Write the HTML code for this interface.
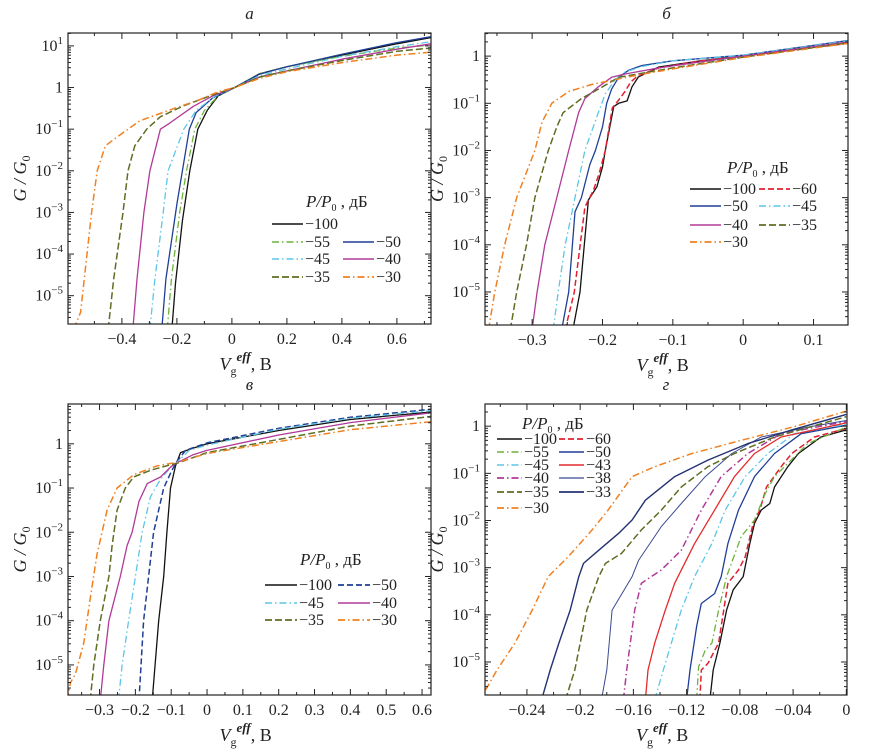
<!DOCTYPE html>
<html><head><meta charset="utf-8">
<style>
html,body{margin:0;padding:0;background:#fff;}
svg{display:block;}
svg text{font-family:"Liberation Serif","DejaVu Serif",serif;}
</style></head>
<body>
<svg id="fig" width="884" height="754" viewBox="0 0 884 754" xmlns="http://www.w3.org/2000/svg" font-family="Liberation Serif, serif">
<defs>
<clipPath id="ca"><rect x="68" y="33" width="363" height="291"/></clipPath>
<clipPath id="cb"><rect x="485" y="33" width="363" height="292"/></clipPath>
<clipPath id="cc"><rect x="68" y="404" width="363" height="291"/></clipPath>
<clipPath id="cd"><rect x="485" y="404" width="362" height="291"/></clipPath>
</defs>
</svg>
<script>
// ---------- data: [V (volts), log10(G/G0)] ----------
const labelsA = ["−100","−55","−50","−45","−40","−35","−30"];
const a_m100 = [[-0.218,-5.8],[-0.205,-4.7],[-0.18,-3.2],[-0.153,-2],[-0.124,-1],[-0.09,-0.55],[-0.05,-0.2],[0.01,0],[0.1,0.33],[0.2,0.5],[0.4,0.78],[0.6,1.05],[0.724,1.2]];
const a_m55 = [[-0.235,-5.8],[-0.22,-4.6],[-0.19,-3],[-0.165,-2],[-0.135,-1],[-0.1,-0.55],[-0.05,-0.2],[0.01,0],[0.1,0.33],[0.2,0.5],[0.4,0.75],[0.6,0.95],[0.724,1.02]];
const a_m50 = [[-0.255,-5.8],[-0.24,-4.6],[-0.2,-2.8],[-0.18,-2],[-0.155,-1],[-0.13,-0.6],[-0.07,-0.25],[0.01,0],[0.1,0.32],[0.2,0.5],[0.4,0.8],[0.6,1.08],[0.724,1.22]];
const a_m45 = [[-0.298,-5.8],[-0.28,-4.6],[-0.25,-3],[-0.232,-2],[-0.175,-1],[-0.13,-0.55],[-0.06,-0.2],[0.01,0],[0.1,0.28],[0.2,0.45],[0.4,0.75],[0.6,0.98],[0.724,1.1]];
const a_m40 = [[-0.36,-5.8],[-0.345,-4.6],[-0.32,-3],[-0.298,-2],[-0.26,-1],[-0.225,-0.85],[-0.14,-0.45],[-0.07,-0.2],[0.01,0],[0.1,0.25],[0.2,0.4],[0.4,0.68],[0.6,0.92],[0.724,1.05]];
const a_m35 = [[-0.45,-5.8],[-0.43,-4.6],[-0.396,-3],[-0.378,-2],[-0.353,-1.4],[-0.31,-1],[-0.26,-0.7],[-0.18,-0.45],[-0.08,-0.2],[0.01,0],[0.1,0.25],[0.2,0.4],[0.4,0.65],[0.6,0.87],[0.724,0.95]];
const a_m30 = [[-0.575,-5.8],[-0.55,-5.4],[-0.527,-4],[-0.51,-3],[-0.49,-2],[-0.46,-1.4],[-0.42,-1.2],[-0.335,-0.8],[-0.21,-0.5],[-0.12,-0.3],[-0.05,-0.1],[0.01,0],[0.1,0.22],[0.2,0.38],[0.4,0.6],[0.6,0.78],[0.724,0.85]];

const labelsB = ["−100","−60","−50","−45","−40","−35","−30"];
const b_m100 = [[-0.242,-5.8],[-0.232,-5],[-0.22,-3.05],[-0.208,-2.77],[-0.2,-2.35],[-0.196,-2],[-0.184,-1.07],[-0.177,-1],[-0.165,-0.95],[-0.158,-0.65],[-0.149,-0.44],[-0.12,-0.23],[-0.06,-0.1],[0,0],[0.149,0.28]];
const b_m60 = [[-0.253,-5.8],[-0.24,-5],[-0.225,-3.2],[-0.213,-2.85],[-0.205,-2.5],[-0.196,-2],[-0.186,-1.1],[-0.178,-0.95],[-0.168,-0.75],[-0.16,-0.55],[-0.15,-0.42],[-0.12,-0.25],[-0.06,-0.1],[0,0],[0.149,0.27]];
const b_m50 = [[-0.258,-5.8],[-0.248,-5],[-0.239,-3.3],[-0.23,-3],[-0.218,-2.3],[-0.21,-2],[-0.2,-1.5],[-0.194,-1],[-0.187,-0.7],[-0.177,-0.45],[-0.163,-0.3],[-0.144,-0.2],[-0.1,-0.1],[0,0.02],[0.149,0.33]];
const b_m45 = [[-0.27,-5.8],[-0.263,-5],[-0.253,-4],[-0.239,-3],[-0.225,-2],[-0.206,-1.2],[-0.196,-0.8],[-0.182,-0.5],[-0.17,-0.35],[-0.144,-0.22],[-0.1,-0.1],[0,0.02],[0.149,0.32]];
const b_m40 = [[-0.3,-5.8],[-0.293,-5],[-0.282,-4],[-0.265,-3],[-0.248,-2],[-0.234,-1.2],[-0.225,-0.9],[-0.206,-0.65],[-0.187,-0.45],[-0.168,-0.38],[-0.12,-0.25],[-0.06,-0.12],[0,0],[0.149,0.3]];
const b_m35 = [[-0.331,-5.8],[-0.322,-5],[-0.308,-4],[-0.296,-3],[-0.277,-2],[-0.265,-1.5],[-0.256,-1.2],[-0.23,-0.9],[-0.2,-0.65],[-0.177,-0.45],[-0.15,-0.38],[-0.1,-0.25],[0,-0.02],[0.149,0.28]];
const b_m30 = [[-0.362,-5.8],[-0.353,-5],[-0.339,-4],[-0.322,-3],[-0.296,-2],[-0.286,-1.4],[-0.272,-1],[-0.248,-0.75],[-0.215,-0.6],[-0.182,-0.5],[-0.15,-0.4],[-0.1,-0.27],[0,-0.03],[0.149,0.27]];

const labelsC = ["−100","−50","−45","−40","−35","−30"];
const c_m100 = [[-0.153,-5.8],[-0.135,-4],[-0.121,-3],[-0.112,-2],[-0.102,-1],[-0.088,-0.5],[-0.074,-0.2],[-0.047,-0.12],[0,0],[0.2,0.3],[0.4,0.55],[0.625,0.72]];
const c_m50 = [[-0.19,-5.8],[-0.177,-4],[-0.163,-3],[-0.149,-2],[-0.121,-1],[-0.098,-0.6],[-0.084,-0.4],[-0.06,-0.15],[0,0.02],[0.2,0.35],[0.4,0.6],[0.625,0.78]];
const c_m45 = [[-0.247,-5.8],[-0.237,-5],[-0.219,-4],[-0.2,-3],[-0.181,-2],[-0.158,-1.2],[-0.13,-0.8],[-0.098,-0.5],[-0.084,-0.42],[-0.05,-0.15],[0,-0.03],[0.2,0.33],[0.4,0.58],[0.625,0.75]];
const c_m40 = [[-0.298,-5.8],[-0.288,-5],[-0.274,-4],[-0.242,-3],[-0.223,-2.3],[-0.209,-2],[-0.19,-1.3],[-0.167,-0.9],[-0.13,-0.75],[-0.098,-0.5],[-0.084,-0.43],[-0.04,-0.25],[0,-0.15],[0.2,0.2],[0.4,0.48],[0.625,0.7]];
const c_m35 = [[-0.326,-5.8],[-0.316,-5],[-0.298,-4],[-0.274,-3],[-0.265,-2.3],[-0.251,-1.5],[-0.228,-1],[-0.205,-0.75],[-0.158,-0.6],[-0.1,-0.47],[-0.084,-0.44],[0,-0.2],[0.2,0.1],[0.4,0.4],[0.625,0.62]];
const c_m30 = [[-0.39,-5.8],[-0.381,-5.4],[-0.367,-5.2],[-0.344,-4.5],[-0.326,-3.5],[-0.307,-2.5],[-0.279,-1.5],[-0.251,-1],[-0.205,-0.7],[-0.14,-0.5],[-0.084,-0.42],[0,-0.22],[0.2,0.05],[0.4,0.32],[0.625,0.5]];

const labelsD = ["−100","−60","−55","−50","−45","−43","−40","−38","−35","−33","−30"];
const d_m100 = [[-0.1025,-5.8],[-0.1,-5.17],[-0.095,-4.6],[-0.09,-3.9],[-0.085,-3.47],[-0.0775,-3.19],[-0.0725,-2.49],[-0.069,-2.06],[-0.064,-1.78],[-0.0575,-1.64],[-0.054,-1.29],[-0.044,-0.86],[-0.036,-0.58],[-0.019,-0.23],[0,-0.08]];
const d_m60 = [[-0.11,-5.8],[-0.109,-5.17],[-0.104,-5.03],[-0.096,-4.6],[-0.089,-3.33],[-0.081,-3.05],[-0.076,-2.77],[-0.07,-2.06],[-0.065,-1.78],[-0.06,-1.29],[-0.049,-0.86],[-0.041,-0.58],[-0.024,-0.23],[0,-0.05]];
const d_m55 = [[-0.1125,-5.8],[-0.111,-5.1],[-0.106,-4.75],[-0.101,-4.6],[-0.096,-3.9],[-0.09,-3.19],[-0.079,-2.34],[-0.069,-1.99],[-0.061,-1.43],[-0.054,-1.07],[-0.044,-0.79],[-0.029,-0.37],[0,-0.02]];
const d_m50 = [[-0.12,-5.8],[-0.1175,-5.17],[-0.1125,-4.25],[-0.109,-3.76],[-0.099,-3.55],[-0.094,-3.19],[-0.089,-2.49],[-0.081,-1.78],[-0.069,-1.07],[-0.054,-0.58],[-0.034,-0.16],[0,0.02]];
const d_m45 = [[-0.144,-5.8],[-0.1375,-5.17],[-0.124,-3.9],[-0.114,-3.19],[-0.101,-2.49],[-0.091,-1.78],[-0.076,-1.07],[-0.059,-0.58],[-0.039,-0.16],[0,0.04]];
const d_m43 = [[-0.151,-5.8],[-0.149,-5.17],[-0.144,-4.6],[-0.136,-3.9],[-0.129,-3.33],[-0.114,-2.49],[-0.099,-1.78],[-0.084,-1.07],[-0.069,-0.58],[-0.049,-0.23],[0,0.07]];
const d_m40 = [[-0.1675,-5.8],[-0.165,-5.17],[-0.159,-3.9],[-0.154,-3.33],[-0.139,-3.05],[-0.124,-2.63],[-0.109,-1.78],[-0.094,-1.07],[-0.074,-0.58],[-0.049,-0.16],[0,0.1]];
const d_m38 = [[-0.184,-5.8],[-0.18,-5.17],[-0.176,-3.9],[-0.161,-3.19],[-0.156,-2.84],[-0.139,-2.13],[-0.124,-1.64],[-0.106,-1.07],[-0.086,-0.58],[-0.064,-0.23],[-0.029,-0.02],[0,0.12]];
const d_m35 = [[-0.211,-5.8],[-0.204,-5.17],[-0.195,-3.9],[-0.186,-3.19],[-0.181,-2.91],[-0.169,-2.7],[-0.154,-2.2],[-0.139,-1.78],[-0.124,-1.29],[-0.104,-0.86],[-0.084,-0.58],[-0.054,-0.23],[0,0.2]];
const d_m33 = [[-0.229,-5.8],[-0.2225,-5.17],[-0.216,-4.6],[-0.2075,-3.9],[-0.201,-3.19],[-0.1975,-2.91],[-0.186,-2.63],[-0.171,-2.27],[-0.161,-1.99],[-0.151,-1.57],[-0.129,-1.07],[-0.104,-0.72],[-0.074,-0.37],[-0.041,-0.08],[0,0.25]];
const d_m30 = [[-0.271,-5.59],[-0.2625,-5.17],[-0.249,-4.6],[-0.236,-3.9],[-0.224,-3.19],[-0.209,-2.77],[-0.191,-2.2],[-0.179,-1.78],[-0.161,-1.07],[-0.144,-0.86],[-0.116,-0.58],[-0.079,-0.3],[-0.039,-0.01],[0,0.32]];

const xTicksA = [-0.4,-0.2,0,0.2,0.4,0.6];
const xTicksB = [-0.3,-0.2,-0.1,0,0.1];
const xTicksC = [-0.3,-0.2,-0.1,0,0.1,0.2,0.3,0.4,0.5,0.6];
const xTicksD = [-0.24,-0.2,-0.16,-0.12,-0.08,-0.04,0];

// ---------- rendering ----------
const NS="http://www.w3.org/2000/svg";
const FF="Liberation Serif, DejaVu Serif, serif";
const svg=document.getElementById('fig');
function el(tag,attrs,parent){const e=document.createElementNS(NS,tag);for(const k in attrs)e.setAttribute(k,attrs[k]);if(tag==='text')e.setAttribute('font-family',FF);(parent||svg).appendChild(e);return e;}
const ST={
 black:{c:"#111",d:"",w:1.3}, green:{c:"#6cb33a",d:"7,3,1.5,3",w:1.3}, blue:{c:"#1f3f95",d:"",w:1.3},
 bluedash:{c:"#1f3f95",d:"6,3",w:1.5}, cyan:{c:"#5cc6e6",d:"7,3,1.5,3",w:1.3}, magenta:{c:"#b03a98",d:"",w:1.3},
 magdd:{c:"#b03a98",d:"7,3,1.5,3",w:1.5}, olive:{c:"#5e6e22",d:"7,3",w:1.5}, orange:{c:"#f08020",d:"7,3,1.5,3",w:1.5},
 reddash:{c:"#e02030",d:"6,3",w:1.5}, red:{c:"#e42a2a",d:"",w:1.3}, navy:{c:"#243272",d:"",w:1.4}, navythin:{c:"#3a4a92",d:"",w:1}
};
function fmt(v){let s=(Math.round(v*1000)/1000).toString();if(v<0)s="−"+s.slice(1);return s;}

function panel(p){
 const g=el('g',{});  
 const sx=v=>p.x0+(v-p.vmin)/(p.vmax-p.vmin)*(p.x1-p.x0);
 const sy=l=>p.y0+(p.lmax-l)/(p.lmax-p.lmin)*(p.y1-p.y0);
 const sg=el('g',{'clip-path':'url(#'+p.clip+')'},g);
 p.series.forEach((s,i)=>{
  const st=ST[s.style];
  const d=s.data.map((pt,j)=>(j?'L':'M')+sx(pt[0]).toFixed(1)+','+sy(pt[1]).toFixed(1)).join(' ');
  const path=el('path',{d:d,fill:'none',stroke:st.c,'stroke-width':st.w,'stroke-dasharray':st.d,'stroke-linejoin':'round'},sg);
  
  
 });
 const fr=el('rect',{x:p.x0,y:p.y0,width:p.x1-p.x0,height:p.y1-p.y0,fill:'none',stroke:'#222','stroke-width':1.2},g);
  
 for(let dec=Math.floor(p.lmin);dec<=Math.ceil(p.lmax);dec++){
  for(let k=1;k<=9;k++){
   const l=dec+Math.log10(k); if(l<p.lmin||l>p.lmax) continue;
   const y=sy(l), len=k===1?6:3;
   el('line',{x1:p.x0,x2:p.x0+len,y1:y,y2:y,stroke:'#222','stroke-width':1},g);
   el('line',{x1:p.x1,x2:p.x1-len,y1:y,y2:y,stroke:'#222','stroke-width':1},g);
  }
  if(dec>=p.lmin-0.01&&dec<=p.lmax){
   const t=el('text',{x:p.x0-5,y:sy(dec)+5,'text-anchor':'end','font-size':16,fill:'#222'},g);
    
   if(dec===0){t.textContent='1';}
   else{t.textContent='10';const sp=el('tspan',{dy:-7,'font-size':11},t);sp.textContent=dec<0?'−'+(-dec):String(dec);}
  }
 }
 const start=Math.ceil(p.vmin/p.minor-1e-6);
 for(let i=start;i*p.minor<=p.vmax+1e-9;i++){
  const v=i*p.minor, x=sx(v);
  const major=p.xticks.some(t=>Math.abs(t-v)<1e-6), len=major?6:3;
  el('line',{x1:x,x2:x,y1:p.y1,y2:p.y1-len,stroke:'#222','stroke-width':1},g);
  el('line',{x1:x,x2:x,y1:p.y0,y2:p.y0+len,stroke:'#222','stroke-width':1},g);
 }
 p.xticks.forEach(v=>{
  const t=el('text',{x:sx(v),y:p.y1+20,'text-anchor':'middle','font-size':16,fill:'#222'},g);
  t.textContent=fmt(v);
   
 });
 const yt=el('text',{transform:'translate('+(p.x0-42)+','+((p.y0+p.y1)/2)+') rotate(-90)','text-anchor':'middle','font-size':18,'font-style':'italic',fill:'#222'},g);
  
 yt.textContent='G / G'; const ys=el('tspan',{dy:4,'font-size':12,'font-style':'normal'},yt); ys.textContent='0';
 const xt=el('text',{x:(p.x0+p.x1)/2-30,y:p.y1+46,'font-size':18,fill:'#222'},g);
  
 const v1=el('tspan',{'font-style':'italic'},xt); v1.textContent='V';
 const v2=el('tspan',{dy:5,'font-size':12},xt); v2.textContent='g';
 const v3=el('tspan',{dy:-14,'font-size':13,'font-style':'italic','font-weight':'bold'},xt); v3.textContent='eff';
 const v4=el('tspan',{dy:9},xt); v4.textContent=', В';
 const pl=el('text',{x:(p.x0+p.x1)/2,y:p.y0-14,'text-anchor':'middle','font-size':17,'font-style':'italic',fill:'#222'},g);
 pl.textContent=p.letter;  
 const lg=el('g',{},g);  
 const tt=el('text',{x:p.leg.tx,y:p.leg.ty,'font-size':17,fill:'#222'},lg);
 const a1=el('tspan',{'font-style':'italic'},tt); a1.textContent='P/P';
 const a2=el('tspan',{dy:4,'font-size':10},tt); a2.textContent='0';
 const a3=el('tspan',{dy:-4},tt); a3.textContent=' , дБ';
 p.leg.items.forEach(it=>{
  const s=p.series[it.i], st=ST[s.style];
  const e=el('g',{},lg);  
  el('line',{x1:it.x,x2:it.x+p.leg.lw,y1:it.y,y2:it.y,stroke:st.c,'stroke-width':st.w+0.3,'stroke-dasharray':st.d},e);
  const t=el('text',{x:it.x+p.leg.lw+2,y:it.y+5,'font-size':16,fill:'#222'},e); t.textContent=s.label;
 });
}

panel({key:'a',name:'panel-a',letter:'а',clip:'ca',x0:68,x1:431,y0:33,y1:324,vmin:-0.596,vmax:0.724,lmin:-5.68,lmax:1.31,minor:0.1,xticks:xTicksA,
 series:[{label:labelsA[0],data:a_m100,style:'black'},{label:labelsA[1],data:a_m55,style:'green'},{label:labelsA[2],data:a_m50,style:'blue'},
  {label:labelsA[3],data:a_m45,style:'cyan'},{label:labelsA[4],data:a_m40,style:'magenta'},{label:labelsA[5],data:a_m35,style:'olive'},{label:labelsA[6],data:a_m30,style:'orange'}],
 leg:{tx:306,ty:207,lw:31,items:[{i:0,x:272,y:224},{i:1,x:272,y:242},{i:2,x:343,y:242},{i:3,x:272,y:259},{i:4,x:343,y:259},{i:5,x:272,y:277},{i:6,x:343,y:277}]}});

panel({key:'b',name:'panel-b',letter:'б',clip:'cb',x0:485,x1:848,y0:33,y1:325,vmin:-0.367,vmax:0.149,lmin:-5.7,lmax:0.49,minor:0.05,xticks:xTicksB,
 series:[{label:labelsB[0],data:b_m100,style:'black'},{label:labelsB[1],data:b_m60,style:'reddash'},{label:labelsB[2],data:b_m50,style:'blue'},
  {label:labelsB[3],data:b_m45,style:'cyan'},{label:labelsB[4],data:b_m40,style:'magenta'},{label:labelsB[5],data:b_m35,style:'olive'},{label:labelsB[6],data:b_m30,style:'orange'}],
 leg:{tx:727,ty:173,lw:31,items:[{i:0,x:690,y:189},{i:1,x:759,y:189},{i:2,x:690,y:206},{i:3,x:759,y:206},{i:4,x:690,y:225},{i:5,x:759,y:225},{i:6,x:690,y:242}]}});

panel({key:'c',name:'panel-c',letter:'в',clip:'cc',x0:68,x1:431,y0:404,y1:695,vmin:-0.388,vmax:0.625,lmin:-5.68,lmax:0.9,minor:0.05,xticks:xTicksC,
 series:[{label:labelsC[0],data:c_m100,style:'black'},{label:labelsC[1],data:c_m50,style:'bluedash'},{label:labelsC[2],data:c_m45,style:'cyan'},
  {label:labelsC[3],data:c_m40,style:'magenta'},{label:labelsC[4],data:c_m35,style:'olive'},{label:labelsC[5],data:c_m30,style:'orange'}],
 leg:{tx:300,ty:565,lw:32,items:[{i:0,x:265,y:585},{i:1,x:338,y:585},{i:2,x:265,y:603},{i:3,x:338,y:603},{i:4,x:265,y:620},{i:5,x:338,y:620}]}});

panel({key:'d',name:'panel-d',letter:'г',clip:'cd',x0:485,x1:847,y0:404,y1:695,vmin:-0.2715,vmax:0.0005,lmin:-5.7,lmax:0.47,minor:0.02,xticks:xTicksD,
 series:[{label:labelsD[0],data:d_m100,style:'black'},{label:labelsD[1],data:d_m60,style:'reddash'},{label:labelsD[2],data:d_m55,style:'green'},
  {label:labelsD[3],data:d_m50,style:'blue'},{label:labelsD[4],data:d_m45,style:'cyan'},{label:labelsD[5],data:d_m43,style:'red'},
  {label:labelsD[6],data:d_m40,style:'magdd'},{label:labelsD[7],data:d_m38,style:'navythin'},{label:labelsD[8],data:d_m35,style:'olive'},
  {label:labelsD[9],data:d_m33,style:'navy'},{label:labelsD[10],data:d_m30,style:'orange'}],
 leg:{tx:522,ty:429,lw:25,items:[{i:0,x:497,y:439},{i:1,x:559,y:439},{i:2,x:497,y:452},{i:3,x:559,y:452},{i:4,x:497,y:465},{i:5,x:559,y:465},
  {i:6,x:497,y:478},{i:7,x:559,y:478},{i:8,x:497,y:492},{i:9,x:559,y:492},{i:10,x:497,y:508}]}});
</script>
</body></html>
